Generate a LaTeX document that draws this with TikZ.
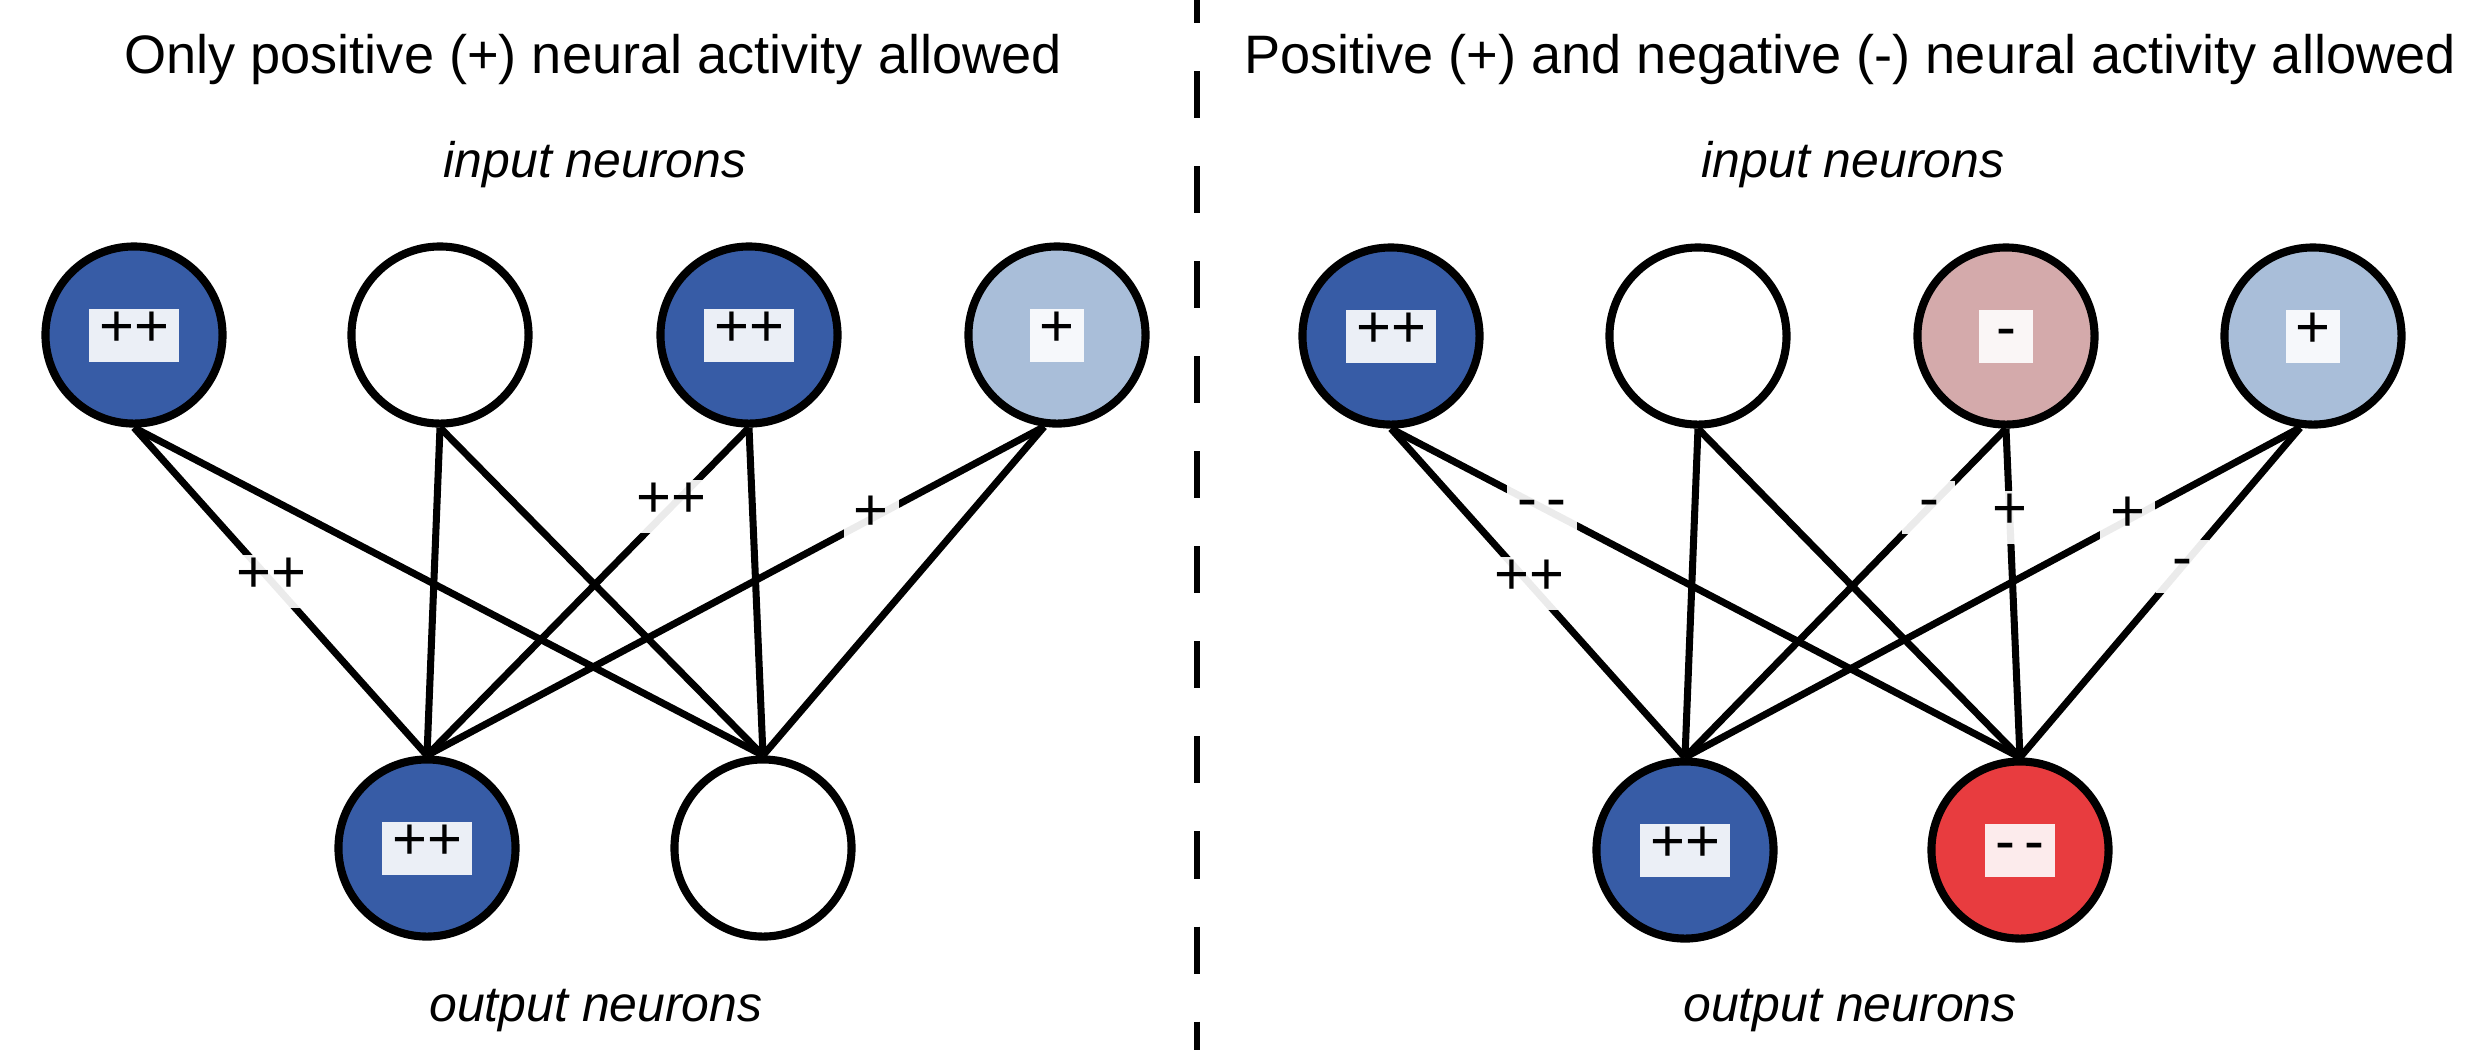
\documentclass[tikz,border=0pt]{standalone}
\usepackage{fontspec}
\setmainfont{Liberation Sans}
\definecolor{dblue}{HTML}{375CA6}
\definecolor{lblue}{HTML}{A9BED9}
\definecolor{pink}{HTML}{D4AAAB}
\definecolor{nred}{HTML}{E83C3F}
\begin{document}
\begin{tikzpicture}[x=0.01cm, y=-0.01cm,
  neuron/.style={circle, draw=black, line width=2.3pt, minimum size=1.77cm, inner sep=0pt},
  act/.style={fill=white, fill opacity=0.9, text opacity=1, inner xsep=0.1cm, inner ysep=0pt,
    minimum width=0.53cm, minimum height=0.53cm, text height=0.64em, text depth=0pt,
    font=\fontsize{17pt}{20pt}\selectfont},
  wlab/.style={act, fill opacity=0.92},
  syn/.style={line width=2pt},
  title/.style={anchor=base, font=\fontsize{15.4pt}{18pt}\selectfont},
  layer/.style={anchor=base, font=\fontsize{14.2pt}{17pt}\selectfont\itshape},
  divider/.style={line width=1.5pt, dash pattern=on 0.47cm off 0.48cm, dash phase=0.24cm}
]
\useasboundingbox (0,0) rectangle (2480,1050);

% divider
\coordinate (dtop) at (1197,0);
\coordinate (dbot) at (1197,1050);
\draw[divider] (dtop) -- (dbot);

% titles
\node[title] (tl) at (593,73) {Only positive (+) neural activity allowed};
\node[title] (tr) at (1850,73) {Positive (+) and negative (-) neural activity allowed};
\node[layer] (il) at (595,177) {input neurons};
\node[layer] (ir) at (1853,177) {input neurons};
\node[layer] (ol) at (596,1021) {output neurons};
\node[layer] (or) at (1850,1021) {output neurons};

% left panel neurons
\node[neuron, fill=dblue] (A1) at (134,335) {};
\node[neuron, fill=white] (A2) at (440,335) {};
\node[neuron, fill=dblue] (A3) at (749,335) {};
\node[neuron, fill=lblue] (A4) at (1057,335) {};
\node[neuron, fill=dblue] (AO1) at (427,848) {};
\node[neuron, fill=white] (AO2) at (763,848) {};

% right panel neurons
\node[neuron, fill=dblue] (B1) at (1391,336) {};
\node[neuron, fill=white] (B2) at (1698,336) {};
\node[neuron, fill=pink] (B3) at (2006,336) {};
\node[neuron, fill=lblue] (B4) at (2313,336) {};
\node[neuron, fill=dblue] (BO1) at (1685,850) {};
\node[neuron, fill=nred] (BO2) at (2020,850) {};

% left connections
\draw[syn] (A1.south) -- (AO1.north) node[wlab, pos=0.47] (wa1) {++};
\draw[syn] (A1.south) -- (AO2.north);
\draw[syn] (A2.south) -- (AO1.north);
\draw[syn] (A2.south) -- (AO2.north);
\draw[syn] (A3.south) -- (AO1.north) node[wlab, pos=0.24] (wa3) {++};
\draw[syn] (A3.south) -- (AO2.north);
\draw[syn] (A4.-98) -- (AO1.north) node[wlab, pos=0.28] (wa4) {+};
\draw[syn] (A4.-98) -- (AO2.north);

% right connections
\draw[syn] (B1.south) -- (BO1.north) node[wlab, pos=0.47] (wb1) {++};
\draw[syn] (B1.south) -- (BO2.north) node[wlab, pos=0.24] (wb2) {-\,-};
\draw[syn] (B2.south) -- (BO1.north);
\draw[syn] (B2.south) -- (BO2.north);
\draw[syn] (B3.south) -- (BO1.north) node[wlab, pos=0.24] (wb3) {-};
\draw[syn] (B3.south) -- (BO2.north) node[wlab, pos=0.27] (wb4) {+};
\draw[syn] (B4.-98) -- (BO1.north) node[wlab, pos=0.28] (wb5) {+};
\draw[syn] (B4.-98) -- (BO2.north) node[wlab, pos=0.42] (wb6) {-};

% activity labels
\node[act] (A1t) at (A1) {++};
\node[act] (A3t) at (A3) {++};
\node[act] (A4t) at (A4) {+};
\node[act] (AO1t) at (AO1) {++};
\node[act] (B1t) at (B1) {++};
\node[act] (B3t) at (B3) {-};
\node[act] (B4t) at (B4) {+};
\node[act] (BO1t) at (BO1) {++};
\node[act] (BO2t) at (BO2) {-\,-};
\end{tikzpicture}
\end{document}
